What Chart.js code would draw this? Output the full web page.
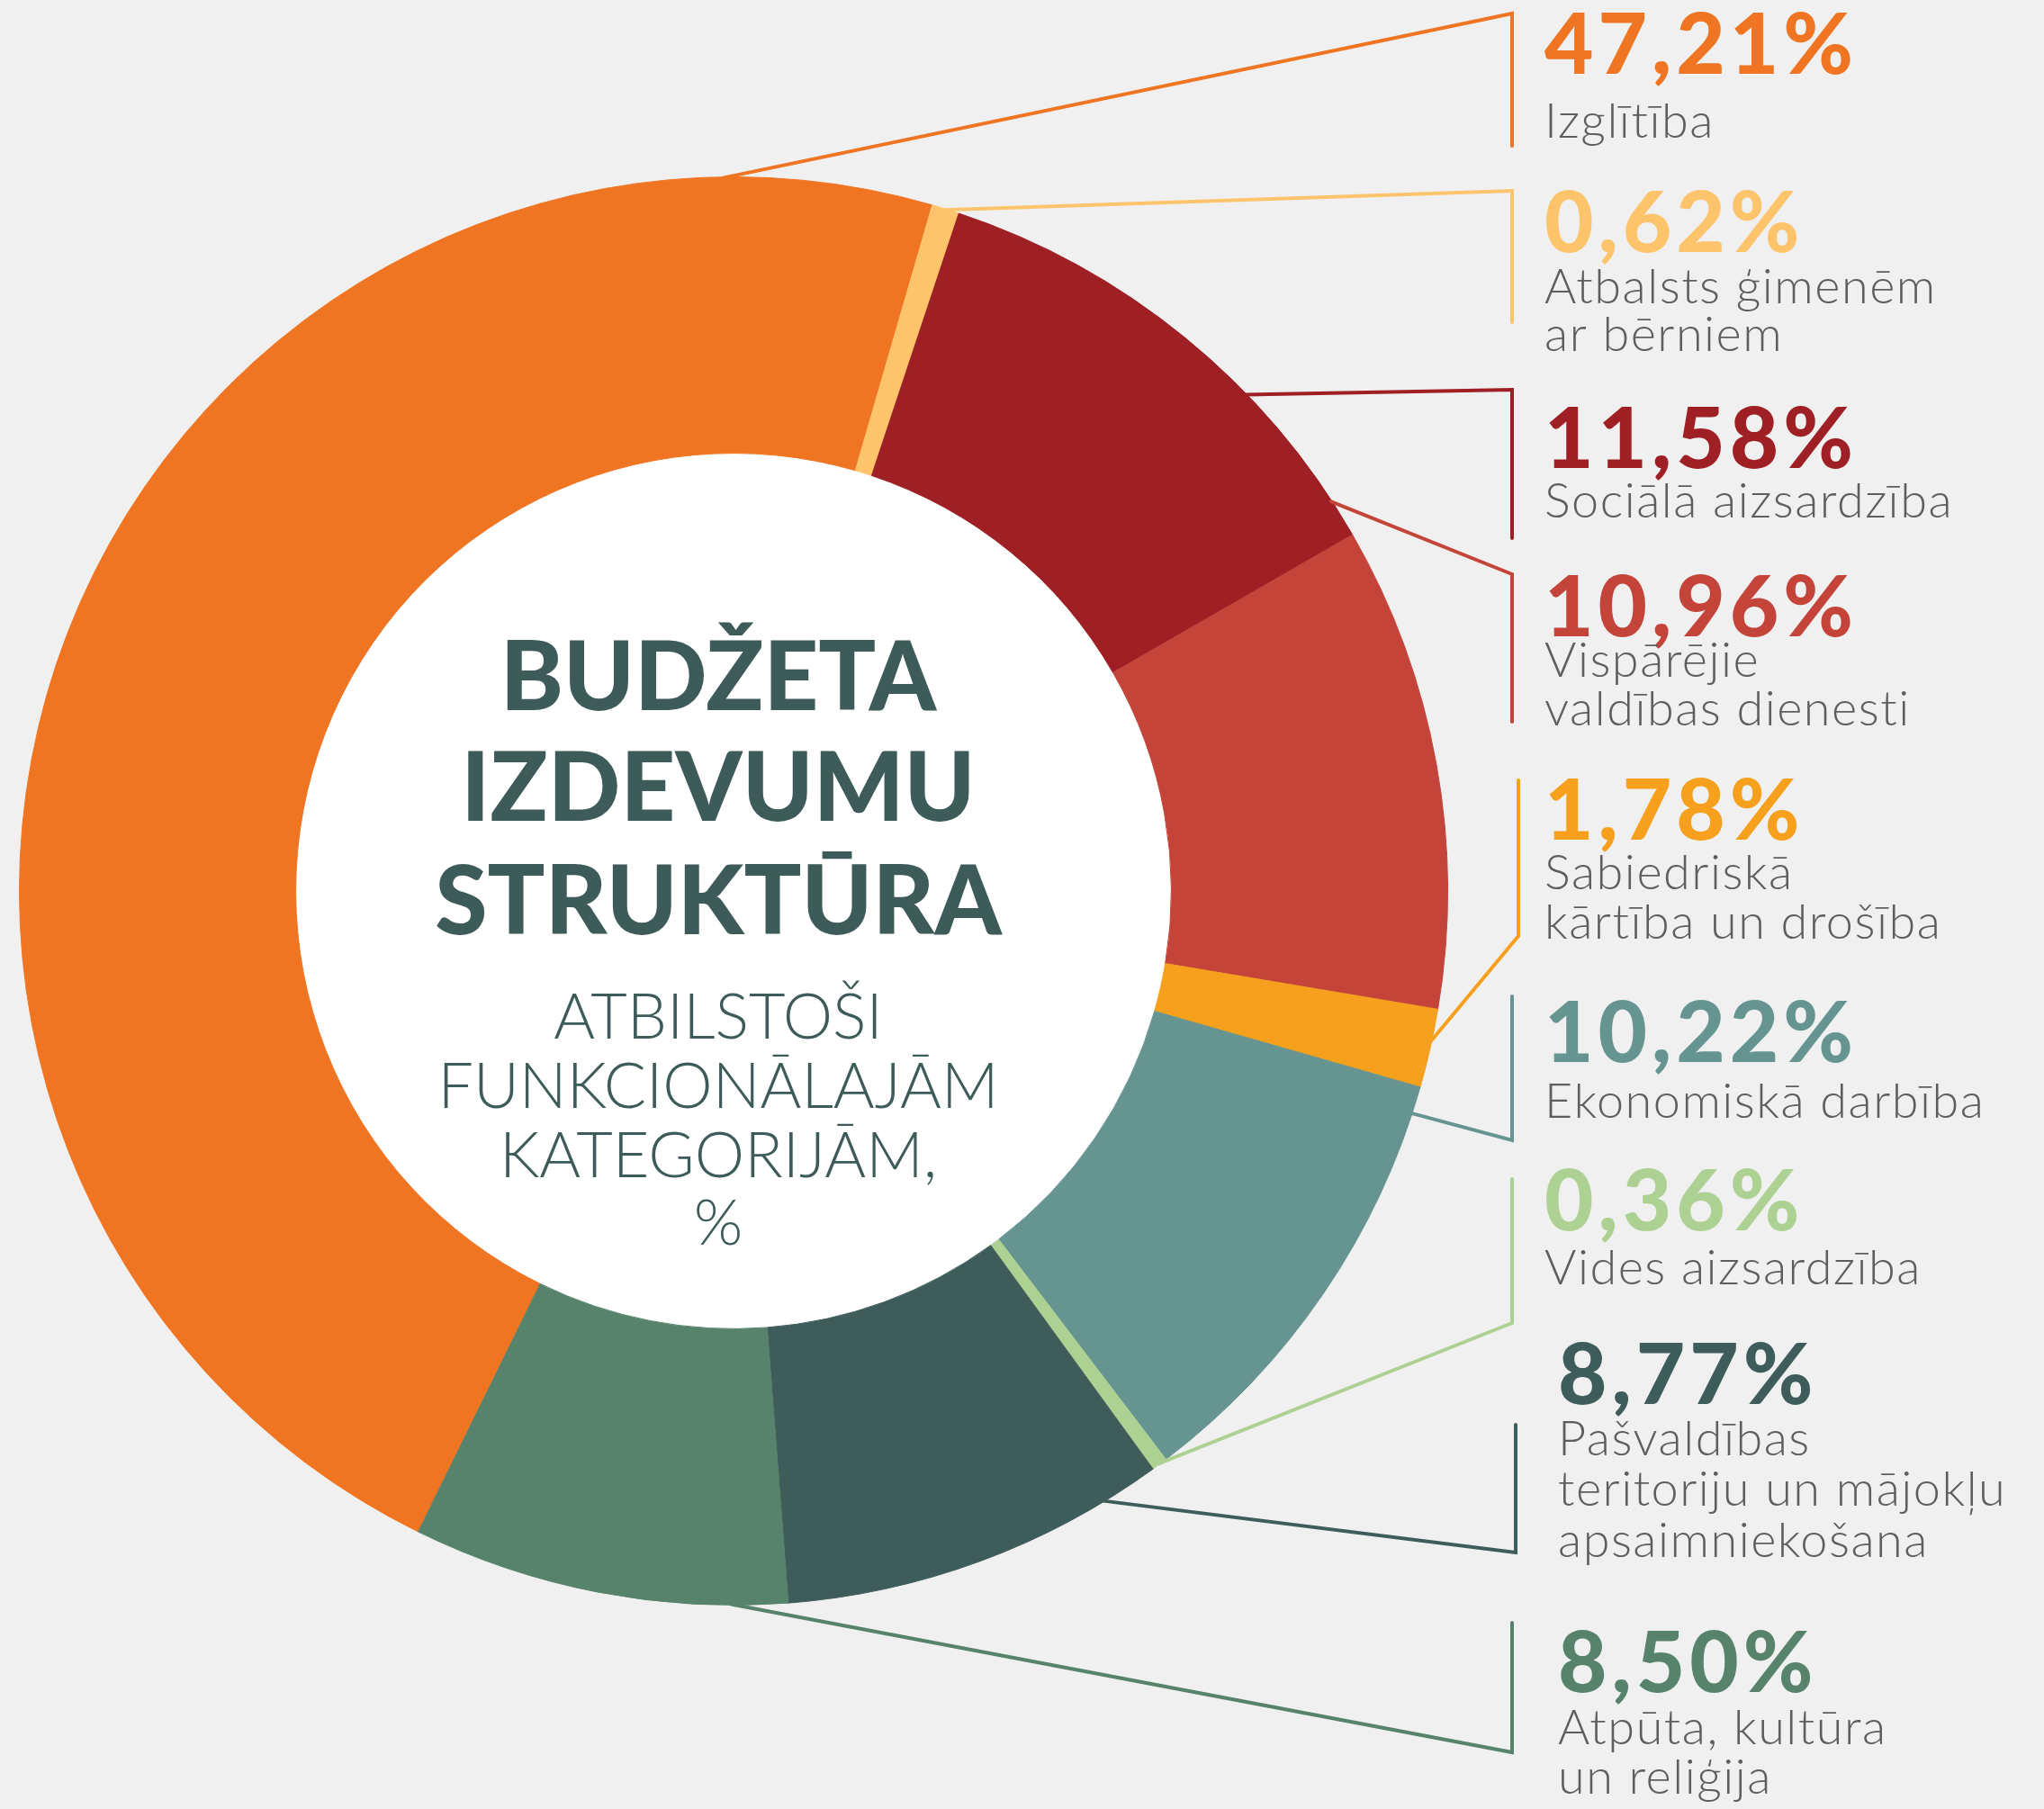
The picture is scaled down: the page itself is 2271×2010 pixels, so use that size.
<!DOCTYPE html>
<html lang="lv">
<head>
  <meta charset="UTF-8">
  <title>Budžeta izdevumu struktūra</title>
  <script src="https://cdn.jsdelivr.net/npm/chart.js"></script>
  <style>
    html, body {
      margin: 0;
      padding: 0;
      background: #f0f0f0;
    }
    #wrap {
      width: 2271px;
      height: 2010px;
      position: relative;
    }
  </style>
</head>
<body>
<div id="wrap"><canvas id="budgetChart"></canvas></div>

<script>
  // data
  const categories = [
    'Izglītība',
    'Atbalsts ģimenēm ar bērniem',
    'Sociālā aizsardzība',
    'Vispārējie valdības dienesti',
    'Sabiedriskā kārtība un drošība',
    'Ekonomiskā darbība',
    'Vides aizsardzība',
    'Pašvaldības teritoriju un mājokļu apsaimniekošana',
    'Atpūta, kultūra un reliģija'
  ];
  const shares = [47.21, 0.62, 11.58, 10.96, 1.78, 10.22, 0.36, 8.77, 8.50];
  const labelLines = [
    ['Izglītība'],
    ['Atbalsts ģimenēm', 'ar bērniem'],
    ['Sociālā aizsardzība'],
    ['Vispārējie', 'valdības dienesti'],
    ['Sabiedriskā', 'kārtība un drošība'],
    ['Ekonomiskā darbība'],
    ['Vides aizsardzība'],
    ['Pašvaldības', 'teritoriju un mājokļu', 'apsaimniekošana'],
    ['Atpūta, kultūra', 'un reliģija']
  ];
  const titleLines = ['BUDŽETA', 'IZDEVUMU', 'STRUKTŪRA'];
  const subtitleLines = ['ATBILSTOŠI', 'FUNKCIONĀLAJĀM', 'KATEGORIJĀM,', '%'];

  const sliceColors = ['#f07522', '#fdc46c', '#9e1f24', '#c4443a', '#f6a01e',
                       '#669591', '#add193', '#3e5d5a', '#57836c'];

  // where each callout sits (canvas px); anchor = position inside the slice (0..1 of its angle)
  const labelLayout = [
    { x: 1716, valueY: 82,   lineYs: [153],              bx: 1680, by: [15, 162],    join: 'top',    anchor: 0.90 },
    { x: 1716, valueY: 280,  lineYs: [337, 390],         bx: 1680, by: [212, 358],   join: 'top',    anchor: 0.50 },
    { x: 1716, valueY: 520,  lineYs: [575],              bx: 1680, by: [433, 598],   join: 'top',    anchor: 0.66 },
    { x: 1716, valueY: 707,  lineYs: [752, 806],         bx: 1680, by: [638, 802],   join: 'top',    anchor: -0.08 },
    { x: 1716, valueY: 933,  lineYs: [988, 1043],        bx: 1687, by: [867, 1040],  join: 'bottom', anchor: 0.41 },
    { x: 1716, valueY: 1180, lineYs: [1242],             bx: 1680, by: [1107, 1267], join: 'bottom', anchor: 0.06 },
    { x: 1716, valueY: 1367, lineYs: [1427],             bx: 1680, by: [1310, 1470], join: 'bottom', anchor: 0.50 },
    { x: 1731, valueY: 1560, lineYs: [1617, 1673, 1730], bx: 1684, by: [1583, 1725], join: 'bottom', anchor: 0.15 },
    { x: 1731, valueY: 1880, lineYs: [1938, 1993],       bx: 1680, by: [1803, 1947], join: 'bottom', anchor: 0.15 }
  ];

  const formatShare = v => v.toFixed(2).replace('.', ',') + '%';

  const calloutPlugin = {
    id: 'callouts',
    beforeDatasetsDraw(chart) {
      const ctx = chart.ctx;
      const first = chart.getDatasetMeta(0).data[0];
      ctx.save();
      ctx.fillStyle = '#ffffff';
      ctx.beginPath();
      ctx.arc(first.x, first.y, first.innerRadius + 2, 0, Math.PI * 2);
      ctx.fill();
      ctx.restore();
    },
    afterDatasetsDraw(chart) {
      const ctx = chart.ctx;
      const arcs = chart.getDatasetMeta(0).data;
      ctx.save();

      arcs.forEach((arc, i) => {
        const lay = labelLayout[i];
        const color = sliceColors[i];
        const a = arc.startAngle + lay.anchor * (arc.endAngle - arc.startAngle);
        const r = arc.outerRadius - 1;
        const ax = arc.x + r * Math.cos(a);
        const ay = arc.y + r * Math.sin(a);
        const joinY = lay.join === 'top' ? lay.by[0] : lay.by[1];
        const endY = lay.join === 'top' ? lay.by[1] : lay.by[0];

        ctx.strokeStyle = color;
        ctx.lineWidth = 4;
        ctx.lineCap = 'round';
        ctx.lineJoin = 'miter';
        ctx.beginPath();
        ctx.moveTo(ax, ay);
        ctx.lineTo(lay.bx, joinY);
        ctx.lineTo(lay.bx, endY);
        ctx.stroke();

        ctx.textAlign = 'left';
        ctx.textBaseline = 'alphabetic';
        ctx.fillStyle = color;
        ctx.font = '900 94px Lato';
        ctx.letterSpacing = '5px';
        ctx.fillText(formatShare(shares[i]), lay.x, lay.valueY);

        ctx.fillStyle = '#5e5e5e';
        ctx.font = '300 54px Lato';
        ctx.letterSpacing = '1.5px';
        labelLines[i].forEach((txt, k) => ctx.fillText(txt, lay.x, lay.lineYs[k]));
      });

      // centre text
      const cx = arcs[0].x - 17;
      ctx.textAlign = 'center';
      ctx.fillStyle = '#3d5b58';
      ctx.letterSpacing = '0px';
      ctx.font = '900 106px Lato';
      [789, 912, 1038].forEach((y, k) => ctx.fillText(titleLines[k], cx, y));
      ctx.font = '300 70px Lato';
      [1154, 1231, 1308, 1383].forEach((y, k) => ctx.fillText(subtitleLines[k], cx, y));

      ctx.restore();
    }
  };

  new Chart(document.getElementById('budgetChart'), {
    type: 'doughnut',
    data: {
      labels: categories,
      datasets: [{
        data: shares,
        backgroundColor: sliceColors,
        borderColor: sliceColors,
        borderWidth: 1,
        hoverOffset: 0
      }]
    },
    options: {
      responsive: true,
      maintainAspectRatio: false,
      animation: false,
      events: [],
      rotation: 206.2,
      cutout: '61.3%',
      layout: { padding: { left: 21, top: 196, right: 662, bottom: 226 } },
      plugins: {
        legend: { display: false },
        tooltip: { enabled: false }
      }
    },
    plugins: [calloutPlugin]
  });
</script>
</body>
</html>
